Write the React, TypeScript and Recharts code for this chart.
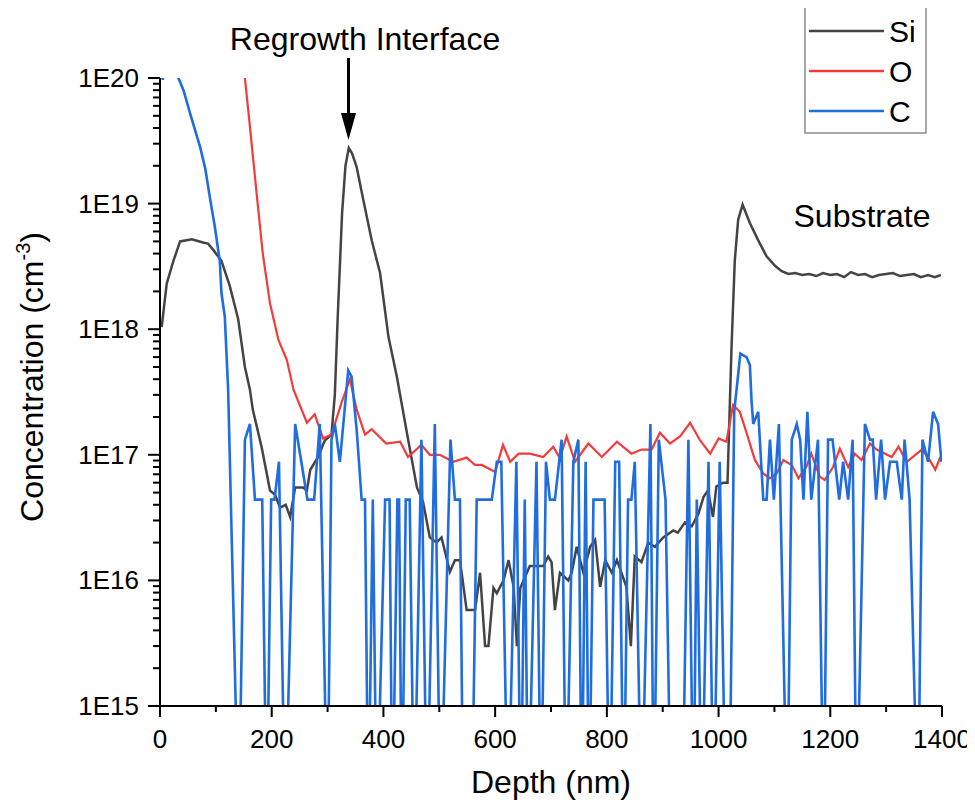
import React from "react";
import { LineChart, Line, XAxis, YAxis, Legend } from "recharts";

// SIMS depth profile, [depth nm, concentration cm^-3]
const SI: [number, number][] = [
  [3, 1.04e18], [12, 2.3e18], [24, 3.5e18], [36, 5.0e18], [57, 5.2e18], [77, 4.9e18],
  [86, 4.8e18], [95, 4.3e18], [110, 3.5e18], [125, 2.2e18], [140, 1.2e18], [152, 5.0e17],
  [161, 3.3e17], [166, 2.3e17], [182, 1.15e17], [197, 5.2e16], [206, 4.8e16], [215, 3.8e16],
  [225, 4.0e16], [233, 3.2e16], [242, 5.5e16], [256, 5.5e16], [263, 5.2e16], [269, 7.6e16],
  [283, 9.6e16], [295, 1.3e17], [307, 1.45e17], [313, 3.0e17], [318, 1.2e18], [326, 8.4e18],
  [332, 2.0e19], [338, 2.77e19], [344, 2.5e19], [352, 1.96e19], [364, 1.07e19], [379, 5.1e18],
  [394, 2.8e18], [409, 8.7e17], [424, 4.2e17], [442, 1.5e17], [460, 5.5e16], [471, 4.2e16],
  [483, 2.2e16], [495, 2.0e16], [504, 2.2e16], [519, 1.17e16], [528, 1.45e16], [537, 1.45e16],
  [549, 5.8e15], [564, 5.8e15], [573, 1.15e16], [582, 3.0e15], [588, 3.0e15], [597, 8.7e15],
  [603, 7.9e15], [615, 1.0e16], [624, 1.45e16], [633, 8.9e15], [639, 3.0e15], [645, 8.7e15],
  [662, 1.3e16], [686, 1.3e16], [695, 1.55e16], [701, 1.4e16], [707, 5.8e15], [716, 1.15e16],
  [731, 1.0e16], [737, 1.15e16], [746, 1.85e16], [758, 1.15e16], [770, 1.85e16], [779, 2.1e16],
  [788, 8.9e15], [797, 1.45e16], [809, 1.15e16], [818, 1.45e16], [835, 8.9e15], [843, 3.0e15],
  [850, 1.55e16], [862, 1.4e16], [874, 2.0e16], [886, 1.85e16], [901, 2.2e16], [919, 2.5e16],
  [927, 2.4e16], [940, 2.9e16], [952, 2.7e16], [964, 3.4e16], [973, 4.6e16], [981, 5.2e16],
  [990, 3.2e16], [996, 5.6e16], [1008, 6.0e16], [1016, 6.0e16], [1023, 6.8e17], [1029, 3.5e18],
  [1035, 7.4e18], [1043, 9.8e18], [1056, 7.0e18], [1071, 5.1e18], [1086, 3.8e18], [1101, 3.2e18],
  [1113, 2.9e18], [1125, 2.75e18], [1137, 2.8e18], [1150, 2.7e18], [1162, 2.75e18], [1175, 2.65e18],
  [1187, 2.8e18], [1200, 2.7e18], [1212, 2.75e18], [1225, 2.6e18], [1237, 2.85e18], [1250, 2.7e18],
  [1262, 2.75e18], [1275, 2.6e18], [1287, 2.7e18], [1300, 2.75e18], [1312, 2.8e18], [1325, 2.65e18],
  [1337, 2.7e18], [1350, 2.75e18], [1362, 2.6e18], [1375, 2.7e18], [1387, 2.6e18], [1398, 2.7e18],
];

const OX: [number, number][] = [
  [152, 1.0e20], [161, 4.1e19], [173, 1.2e19], [184, 4.0e18], [197, 1.6e18], [212, 8.2e17],
  [227, 5.7e17], [239, 3.3e17], [263, 1.8e17], [277, 2.1e17], [292, 1.35e17], [307, 1.45e17],
  [325, 2.6e17], [340, 4.0e17], [352, 2.3e17], [367, 1.45e17], [379, 1.6e17], [405, 1.23e17],
  [430, 1.27e17], [444, 9.6e16], [468, 1.2e17], [483, 1.0e17], [501, 1.0e17], [525, 8.8e16],
  [549, 9.5e16], [564, 8.3e16], [576, 8.3e16], [600, 7.3e16], [614, 1.2e17], [627, 8.8e16],
  [642, 1.02e17], [662, 1.02e17], [686, 9.6e16], [704, 1.16e17], [716, 9.4e16], [728, 1.4e17],
  [743, 8.8e16], [767, 1.23e17], [791, 9.6e16], [818, 1.27e17], [844, 1.02e17], [862, 1.1e17],
  [880, 1.1e17], [895, 1.5e17], [913, 1.23e17], [931, 1.4e17], [949, 1.8e17], [967, 1.3e17],
  [985, 1.02e17], [1000, 1.35e17], [1014, 1.27e17], [1026, 2.5e17], [1038, 2.2e17], [1050, 1.5e17],
  [1065, 9.1e16], [1080, 7.1e16], [1092, 6.5e16], [1104, 7.1e16], [1116, 9.1e16], [1131, 8.3e16],
  [1143, 6.5e16], [1157, 8.0e16], [1166, 1.02e17], [1181, 6.7e16], [1190, 6.3e16], [1205, 8.0e16],
  [1217, 1.12e17], [1232, 8.0e16], [1244, 1.02e17], [1256, 9.1e16], [1271, 1.23e17], [1283, 1.1e17],
  [1310, 9.6e16], [1322, 1.16e17], [1337, 8.8e16], [1364, 1.1e17], [1376, 9.4e16], [1388, 7.6e16],
  [1397, 9.6e16],
];

// carbon sits near the detection limit, 1e14 marks the zero-count points
const CB: [number, number][] = [
  [0, 1.3e20], [5, 9.7e19], [10, 1.3e20], [20, 1.4e20], [30, 1.15e20], [33, 1.0e20], [42, 8.0e19],
  [54, 5.2e19], [72, 2.8e19], [81, 1.9e19], [90, 1.07e19], [98, 6.6e18], [107, 3.5e18],
  [110, 1.95e18], [116, 1.26e18], [122, 3.3e17], [141, 1e14], [152, 1.32e17], [161, 1.76e17],
  [170, 4.4e16], [183, 4.4e16], [191, 1e14], [199, 4.4e16], [205, 4.4e16], [213, 8.8e16],
  [224, 1e14], [242, 1.76e17], [264, 4.4e16], [276, 4.4e16], [286, 1.76e17], [300, 1e14],
  [307, 1.32e17], [313, 1.76e17], [322, 8.8e16], [337, 4.7e17], [343, 4.2e17], [352, 1.6e17],
  [361, 4.4e16], [367, 4.4e16], [373, 1e14], [381, 4.4e16], [388, 1e14], [403, 4.4e16],
  [411, 4.4e16], [416, 1e14], [425, 4.4e16], [428, 4.4e16], [433, 1e14], [440, 4.4e16],
  [447, 4.4e16], [455, 1e14], [468, 1.32e17], [478, 1e14], [492, 1.76e17], [502, 1e14],
  [520, 1.32e17], [528, 4.4e16], [537, 4.4e16], [543, 1e14], [558, 1e14], [567, 4.4e16],
  [594, 4.4e16], [603, 8.8e16], [611, 8.8e16], [623, 1e14], [638, 8.8e16], [646, 1e14],
  [653, 4.4e16], [659, 1e14], [674, 8.8e16], [682, 1e14], [691, 8.8e16], [698, 4.4e16],
  [707, 4.4e16], [719, 1.32e17], [727, 1e14], [740, 8.8e16], [749, 1.32e17], [755, 1e14],
  [762, 8.8e16], [768, 1e14], [776, 4.4e16], [796, 4.4e16], [805, 1e14], [815, 8.8e16],
  [822, 8.8e16], [830, 1e14], [838, 4.4e16], [844, 4.4e16], [850, 8.8e16], [862, 1e14],
  [878, 1.76e17], [884, 1e14], [893, 1.32e17], [905, 4.4e16], [915, 1e14], [935, 1e14],
  [946, 1.32e17], [955, 1e14], [961, 4.4e16], [970, 1e14], [982, 8.8e16], [991, 1e14],
  [1002, 8.8e16], [1013, 1e14], [1019, 1e14], [1028, 2.2e17], [1039, 6.4e17], [1050, 6.0e17],
  [1056, 5.2e17], [1059, 2.7e17], [1062, 1.76e17], [1071, 2.2e17], [1080, 4.4e16], [1086, 4.4e16],
  [1092, 1.32e17], [1099, 4.4e16], [1108, 1.76e17], [1123, 1e14], [1131, 1.32e17], [1140, 1.76e17],
  [1146, 1.32e17], [1152, 4.4e16], [1159, 2.2e17], [1166, 4.4e16], [1178, 1.32e17], [1188, 1e14],
  [1196, 1.32e17], [1204, 1.32e17], [1216, 4.4e16], [1223, 8.8e16], [1232, 4.4e16], [1240, 1.32e17],
  [1247, 1e14], [1262, 1.76e17], [1271, 1.32e17], [1276, 1.32e17], [1282, 4.4e16], [1291, 1.32e17],
  [1298, 4.4e16], [1307, 8.8e16], [1319, 8.8e16], [1328, 4.4e16], [1333, 1.32e17], [1342, 4.4e16],
  [1357, 1e14], [1365, 1.32e17], [1375, 8.8e16], [1384, 2.2e17], [1393, 1.76e17], [1399, 8.8e16],
];

const DEPTH_TICKS = [0, 100, 200, 300, 400, 500, 600, 700, 800, 900, 1000, 1100, 1200, 1300, 1400];
const DECADES = [1e15, 1e16, 1e17, 1e18, 1e19, 1e20];
const DECADE_LABELS = ["1E15", "1E16", "1E17", "1E18", "1E19", "1E20"];

const SERIES = [
  { name: "Si", color: "#444444", width: 2.5, points: SI },
  { name: "O", color: "#f23c3c", width: 2.2, points: OX },
  { name: "C", color: "#1f6ddf", width: 2.6, points: CB },
];

const FONT = "'Liberation Sans', Arial, sans-serif";

// major + minor log ticks
const concTicks: number[] = [];
DECADES.forEach((d, i) => {
  if (i === DECADES.length - 1) concTicks.push(d);
  else for (let k = 1; k <= 9; k++) concTicks.push(k * d);
});

const YTick = (props: any) => {
  const { x, y, payload } = props;
  const lg = Math.log10(payload.value);
  const idx = DECADES.findIndex((d) => Math.abs(Math.log10(d) - lg) < 1e-6);
  const major = idx >= 0;
  return (
    <g>
      <line x1={x} x2={x - (major ? 12 : 7)} y1={y} y2={y} stroke="#000" strokeWidth={2} />
      {major && (
        <text x={x - 21} y={y + 9} textAnchor="end" fontSize={26} fontFamily={FONT} fill="#000">
          {DECADE_LABELS[idx]}
        </text>
      )}
    </g>
  );
};

const XTick = (props: any) => {
  const { x, y, payload } = props;
  const major = payload.value % 200 === 0;
  return (
    <g>
      <line x1={x} x2={x} y1={y} y2={y + (major ? 11 : 6)} stroke="#000" strokeWidth={2} />
      {major && (
        <text x={x} y={y + 42} textAnchor="middle" fontSize={26} fontFamily={FONT} fill="#000">
          {payload.value}
        </text>
      )}
    </g>
  );
};

const YTitle = () => (
  <text transform="translate(43,377) rotate(-90)" textAnchor="middle" fontSize={32} fontFamily={FONT} fill="#000">
    Concentration (cm<tspan dy={-13} fontSize={20}>-3</tspan>
    <tspan dy={13}>)</tspan>
  </text>
);

const XTitle = () => (
  <text x={551} y={793} textAnchor="middle" fontSize={32} fontFamily={FONT} fill="#000">
    Depth (nm)
  </text>
);

const LegendBox = () => (
  <svg width={124} height={128} style={{ display: "block" }}>
    <rect x={1} y={1} width={121} height={126} fill="#fff" stroke="#8c8c8c" strokeWidth={1.5} />
    {SERIES.map((s, i) => (
      <g key={s.name}>
        <line x1={5} x2={80} y1={25 + 40 * i} y2={25 + 40 * i} stroke={s.color} strokeWidth={2.4} />
        <text x={85} y={36 + 40 * i} fontSize={30} fontFamily={FONT} fill="#000">
          {s.name}
        </text>
      </g>
    ))}
  </svg>
);

export default function App() {
  return (
    <div style={{ position: "relative", width: 975, height: 807, margin: "-8px 0 0 -8px", background: "#fff" }}>
      <LineChart width={975} height={807} margin={{ top: 78, right: 33, left: 0, bottom: 0 }} style={{ fontFamily: FONT }}>
        <XAxis
          dataKey="depth"
          type="number"
          domain={[0, 1400]}
          ticks={DEPTH_TICKS}
          interval={0}
          height={101}
          tickSize={0}
          tickMargin={0}
          tickLine={false}
          tick={<XTick />}
          axisLine={{ stroke: "#000", strokeWidth: 2 }}
          label={<XTitle />}
          allowDataOverflow
        />
        <YAxis
          type="number"
          scale="log"
          domain={[1e15, 1e20]}
          ticks={concTicks}
          interval={0}
          width={160}
          tickSize={0}
          tickMargin={0}
          tickLine={false}
          tick={<YTick />}
          axisLine={{ stroke: "#000", strokeWidth: 2 }}
          label={<YTitle />}
          allowDataOverflow
        />
        {SERIES.map((s) => (
          <Line
            key={s.name}
            name={s.name}
            data={s.points.map(([depth, conc]) => ({ depth, conc }))}
            dataKey="conc"
            type="linear"
            stroke={s.color}
            strokeWidth={s.width}
            dot={false}
            activeDot={false}
            isAnimationActive={false}
          />
        ))}
        <Legend
          layout="vertical"
          align="center"
          verticalAlign="middle"
          content={<LegendBox />}
          wrapperStyle={{ position: "absolute", left: 804, top: 6, width: 124, height: 128 }}
        />
      </LineChart>
      <svg width={975} height={807} style={{ position: "absolute", left: 0, top: 0, pointerEvents: "none" }}>
        <text x={365} y={50} textAnchor="middle" fontSize={32} fontFamily={FONT} fill="#000">
          Regrowth Interface
        </text>
        <line x1={348.5} x2={348.5} y1={58} y2={118} stroke="#000" strokeWidth={3} />
        <polygon points="341,113 356,113 348.5,140" fill="#000" />
        <text x={862} y={227} textAnchor="middle" fontSize={32} fontFamily={FONT} fill="#000">
          Substrate
        </text>
      </svg>
    </div>
  );
}
